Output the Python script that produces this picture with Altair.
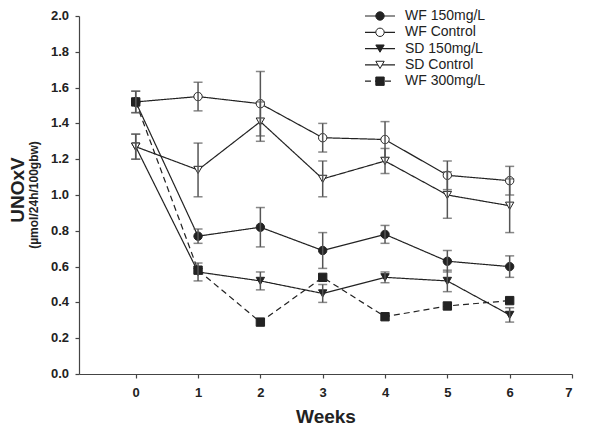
import altair as alt
import pandas as pd

weeks = [0, 1, 2, 3, 4, 5, 6]
series_names = ["WF 150mg/L", "WF Control", "SD 150mg/L", "SD Control", "WF 300mg/L"]

wf150 = [1.52, 0.77, 0.82, 0.69, 0.78, 0.63, 0.60]
wf150_err = [0.06, 0.04, 0.11, 0.10, 0.05, 0.06, 0.06]
wfctl = [1.52, 1.55, 1.51, 1.32, 1.31, 1.11, 1.08]
wfctl_err = [0.06, 0.08, 0.18, 0.08, 0.10, 0.08, 0.08]
sd150 = [1.27, 0.57, 0.52, 0.45, 0.54, 0.52, 0.33]
sd150_err = [0.07, 0.05, 0.05, 0.05, 0.03, 0.06, 0.04]
sdctl = [1.27, 1.14, 1.41, 1.09, 1.19, 1.00, 0.94]
sdctl_err = [0.07, 0.15, 0.11, 0.10, 0.07, 0.13, 0.15]
wf300 = [1.52, 0.58, 0.29, 0.54, 0.32, 0.38, 0.41]
wf300_err = [0, 0, 0, 0, 0, 0, 0]

y_ticks = [0.0, 0.2, 0.4, 0.6, 0.8, 1.0, 1.2, 1.4, 1.6, 1.8, 2.0]
y_tick_labels = ["0.0", "0.2", "0.4", "0.6", "0.8", "1.0", "1.2", "1.4", "1.6", "1.8", "2.0"]
x_ticks = [0, 1, 2, 3, 4, 5, 6, 7]

shapes = ["circle", "circle", "triangle-down", "triangle-down", "square"]
fills = ["#222222", "white", "#222222", "white", "#222222"]
dashes = [[1, 0], [1, 0], [1, 0], [1, 0], [6, 4]]

rows = []
for name, vals, errs in zip(series_names,
                            [wf150, wfctl, sd150, sdctl, wf300],
                            [wf150_err, wfctl_err, sd150_err, sdctl_err, wf300_err]):
    for w, v, e in zip(weeks, vals, errs):
        rows.append({"series": name, "week": w, "value": v, "err": e,
                     "lo": v - e, "hi": v + e})
df = pd.DataFrame(rows)
tick_df = pd.DataFrame({"value": y_ticks, "label": y_tick_labels})

FONT = "Liberation Sans"
INK = "#222222"

xs = alt.Scale(domain=[-0.91, 7], nice=False, zero=False)
ys = alt.Scale(domain=[0, 2], nice=False, zero=True)

xaxis = alt.Axis(
    values=x_ticks, format="d", title="Weeks", grid=False, labelOverlap=False,
    labelFont=FONT, labelFontSize=13, labelFontWeight="bold", labelColor=INK,
    labelPadding=8, tickSize=4, tickColor="#444", domainColor="#444",
    titleFont=FONT, titleFontSize=19, titleFontWeight="bold", titleColor=INK,
    titlePadding=8)
yaxis = alt.Axis(
    values=y_ticks, title=None, grid=False, labels=False,
    tickSize=4, tickColor="#444", domainColor="#444")


def X(field):
    return alt.X(field, scale=xs, axis=xaxis)


def Y(field):
    return alt.Y(field, scale=ys, axis=yaxis)


base = alt.Chart(df)

lines = base.mark_line(strokeWidth=1.2, color=INK).encode(
    x=X("week:Q"), y=Y("value:Q"), detail="series:N",
    strokeDash=alt.StrokeDash("series:N", scale=alt.Scale(domain=series_names, range=dashes), legend=None),
)

points = base.mark_point(size=70, stroke=INK, strokeWidth=1, opacity=1, filled=False).encode(
    x=X("week:Q"), y=Y("value:Q"),
    shape=alt.Shape("series:N", scale=alt.Scale(domain=series_names, range=shapes), legend=None),
    fill=alt.Fill("series:N", scale=alt.Scale(domain=series_names, range=fills), legend=None),
)

err_df = base.transform_filter("datum.err > 0")
err_rules = err_df.mark_rule(color="#555555", strokeWidth=1.5).encode(
    x=X("week:Q"), y=Y("lo:Q"), y2="hi:Q")
cap_lo = err_df.mark_tick(color="#555555", thickness=1.5, size=9, orient="horizontal").encode(
    x=X("week:Q"), y=Y("lo:Q"))
cap_hi = err_df.mark_tick(color="#555555", thickness=1.5, size=9, orient="horizontal").encode(
    x=X("week:Q"), y=Y("hi:Q"))

# y tick labels (drawn through the y scale)
ylabels = alt.Chart(tick_df).mark_text(
    font=FONT, fontSize=13, fontWeight="bold", color=INK, align="right", baseline="middle"
).encode(x=alt.value(-10), y=Y("value:Q"), text="label:N")

# y-axis two-part title
ytitle = alt.Chart(pd.DataFrame({"t": ["UNOxV"]})).mark_text(
    font=FONT, fontSize=19, fontWeight="bold", color=INK, angle=270, baseline="middle", align="center"
).encode(text="t:N", x=alt.value(-61), y=alt.value(174))
ysub = alt.Chart(pd.DataFrame({"t": ["(µmol/24h/100gbw)"]})).mark_text(
    font=FONT, fontSize=12, fontWeight="bold", color=INK, angle=270, baseline="middle", align="center"
).encode(text="t:N", x=alt.value(-45), y=alt.value(179))

# custom legend
legend_layers = []
leg_y = [0, 16.3, 32.6, 48.9, 65.2]
for i, name in enumerate(series_names):
    d = pd.DataFrame({"label": [name]})
    legend_layers.append(alt.Chart(d).mark_rule(color=INK, strokeWidth=1.2, strokeDash=dashes[i]).encode(
        x=alt.value(286), x2=alt.value(316), y=alt.value(leg_y[i])))
    legend_layers.append(alt.Chart(d).mark_point(shape=shapes[i], fill=fills[i], stroke=INK, size=70,
                                                 strokeWidth=1, opacity=1).encode(
        x=alt.value(301), y=alt.value(leg_y[i])))
    legend_layers.append(alt.Chart(d).mark_text(font=FONT, fontSize=14, color=INK, align="left",
                                                baseline="middle").encode(
        text="label:N", x=alt.value(326), y=alt.value(leg_y[i])))

chart = alt.layer(lines, points, err_rules, cap_lo, cap_hi, ylabels, ytitle, ysub, *legend_layers).properties(
    width=493, height=358,
    autosize=alt.AutoSizeParams(type="none"),
    padding={"left": 71, "top": 8, "right": 20, "bottom": 52},
).configure_view(stroke=None).configure_axis(
    domainWidth=1.2, tickWidth=1.2
)

chart.save("out.html", embed_options={"renderer": "svg", "actions": False})
